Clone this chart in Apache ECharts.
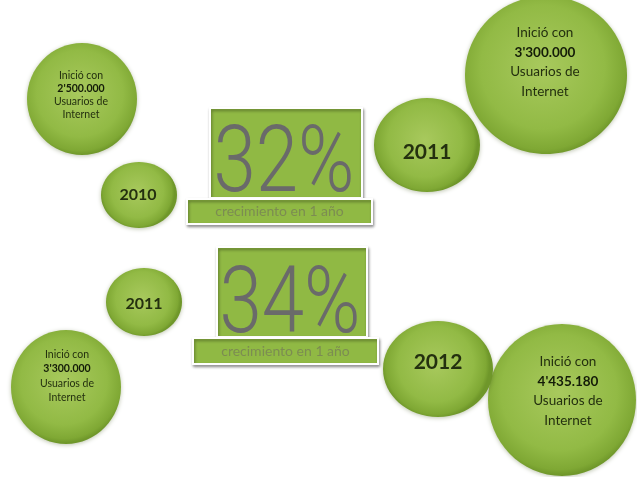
<!DOCTYPE html>
<html>
<head>
<meta charset="utf-8">
<script src="https://cdn.jsdelivr.net/npm/echarts@6/dist/echarts.min.js"></script>
<style>
  html, body { margin: 0; padding: 0; background: #ffffff; }
  #chart { width: 637px; height: 477px; }
</style>
</head>
<body>
<div id="chart"></div>
<script>
// Internet users, one growth step per period
const periodStartYear = [2010, 2011];
const periodEndYear = [2011, 2012];
const usersAtStart = [2500000, 3300000];
const usersAtEnd = [3300000, 4435180];
const growthPercent = [32, 34];
const growthCaption = 'crecimiento en 1 año';
const usersTextBefore = 'Inició con';
const usersTextAfter = ['Usuarios de', 'Internet'];

// Board: a 637 x 477 stage addressed through hidden value axes
const STAGE_W = 637;
const STAGE_H = 477;

// Where each piece of a period sits on the stage, and how its text is set
const layout = [
  {
    startUsers: { cx: 82, cy: 99, rx: 55, ry: 56, dx: -1, dy: -4, fs: 10.5, lh: 13 },
    startYear:  { cx: 139, cy: 195, rx: 38, ry: 33, dx: -1, dy: 0, fs: 16 },
    endYear:    { cx: 427, cy: 145, rx: 53, ry: 47, dx: 0, dy: 7, fs: 21 },
    endUsers:   { cx: 546, cy: 75, rx: 81, ry: 79, dx: -1, dy: -13, fs: 13.5, lh: 19.5 },
    box:        { x0: 210, y0: 108, x1: 362, y1: 198, dy: 15 },
    bar:        { x0: 187, y0: 199, x1: 372, y1: 224 }
  },
  {
    startUsers: { cx: 66, cy: 387, rx: 55, ry: 57, dx: 1, dy: -11, fs: 10.5, lh: 14.5 },
    startYear:  { cx: 144, cy: 302, rx: 38, ry: 34, dx: 0, dy: 2, fs: 16 },
    endYear:    { cx: 438, cy: 369, rx: 55, ry: 48, dx: 0, dy: -7, fs: 21 },
    endUsers:   { cx: 562, cy: 400, rx: 74, ry: 76, dx: 6, dy: -9, fs: 13.5, lh: 19.5 },
    box:        { x0: 217, y0: 247, x1: 367, y1: 337, dy: 17 },
    bar:        { x0: 193, y0: 338, x1: 378, y1: 364 }
  }
];

const FONT = 'Lato, "Noto Sans", sans-serif';
const BIG_FONT = 'Roboto, Lato, sans-serif';
const INK = '#24300f';

function formatUsers(n) {
  const pad = v => String(v).padStart(3, '0');
  const millions = Math.floor(n / 1e6);
  const thousands = Math.floor((n % 1e6) / 1000);
  const units = n % 1000;
  return millions + "'" + pad(thousands) + '.' + pad(units);
}

// Bubble list: user-count bubbles first so the year bubbles overlap them
const bubbles = [];
periodStartYear.forEach((_, i) => {
  bubbles.push({ kind: 'users', value: usersAtStart[i], place: layout[i].startUsers });
  bubbles.push({ kind: 'users', value: usersAtEnd[i], place: layout[i].endUsers });
});
periodStartYear.forEach((_, i) => {
  bubbles.push({ kind: 'year', value: periodStartYear[i], place: layout[i].startYear });
  bubbles.push({ kind: 'year', value: periodEndYear[i], place: layout[i].endYear });
});

function bubbleFill() {
  return new echarts.graphic.RadialGradient(0.48, 0.45, 0.56, [
    { offset: 0, color: '#a8c95d' },
    { offset: 0.7, color: '#92ba45' },
    { offset: 0.93, color: '#7fa834' },
    { offset: 1, color: '#6f972a' }
  ]);
}

function renderBubble(params, api) {
  const b = bubbles[params.dataIndex];
  const p = b.place;
  const c = api.coord([api.value(0), api.value(1)]);
  const s = api.size([api.value(2), api.value(3)], [api.value(0), api.value(1)]);
  let text, rich;
  if (b.kind === 'users') {
    text = '{n|' + usersTextBefore + '}\n{b|' + formatUsers(b.value) + '}\n' +
      usersTextAfter.map(t => '{n|' + t + '}').join('\n');
    rich = {
      n: { fontFamily: FONT, fontSize: p.fs, lineHeight: p.lh, fill: INK, align: 'center' },
      b: { fontFamily: FONT, fontSize: p.fs, lineHeight: p.lh, fontWeight: 'bold', fill: '#141c08', align: 'center' }
    };
  } else {
    text = String(b.value);
    rich = null;
  }
  const style = {
    text: text,
    x: 0, y: 0,
    align: 'center',
    verticalAlign: 'middle',
    fontFamily: FONT,
    fontSize: p.fs,
    fontWeight: b.kind === 'year' ? 'bold' : 'normal',
    fill: INK
  };
  if (rich) style.rich = rich;
  return {
    type: 'group',
    children: [
      {
        type: 'ellipse',
        shape: { cx: c[0], cy: c[1], rx: s[0], ry: s[1] },
        style: {
          fill: bubbleFill(),
          shadowColor: 'rgba(70, 90, 30, 0.35)',
          shadowBlur: 4,
          shadowOffsetY: 1
        }
      },
      {
        type: 'text',
        x: c[0] + p.dx,
        y: c[1] + p.dy,
        style: style
      }
    ]
  };
}

function renderGrowth(params, api) {
  const L = layout[params.dataIndex];
  const b0 = api.coord([L.box.x0, L.box.y0]);
  const b1 = api.coord([L.box.x1, L.box.y1]);
  const r0 = api.coord([L.bar.x0, L.bar.y0]);
  const r1 = api.coord([L.bar.x1, L.bar.y1]);
  const frame = {
    fill: '#90b944',
    stroke: '#ffffff',
    lineWidth: 2,
    shadowColor: 'rgba(0, 0, 0, 0.38)',
    shadowBlur: 3,
    shadowOffsetX: 1,
    shadowOffsetY: 2
  };
  const midX = (b0[0] + b1[0]) / 2;
  const midY = (b0[1] + b1[1]) / 2;
  return {
    type: 'group',
    children: [
      {
        type: 'rect',
        shape: { x: b0[0], y: b0[1], width: b1[0] - b0[0], height: b1[1] - b0[1] },
        style: frame
      },
      {
        type: 'text',
        x: midX - 2,
        y: midY + L.box.dy,
        scaleX: 0.82,
        style: {
          text: api.value(0) + '%',
          x: 0, y: 0,
          align: 'center',
          verticalAlign: 'middle',
          fontFamily: BIG_FONT,
          fontWeight: 300,
          fontSize: 93,
          fill: '#6a6a6a'
        }
      },
      {
        type: 'rect',
        shape: { x: r0[0], y: r0[1], width: r1[0] - r0[0], height: r1[1] - r0[1] },
        style: frame
      },
      {
        type: 'text',
        x: (r0[0] + r1[0]) / 2,
        y: (r0[1] + r1[1]) / 2,
        style: {
          text: growthCaption,
          x: 0, y: 0,
          align: 'center',
          verticalAlign: 'middle',
          fontFamily: FONT,
          fontSize: 14,
          fill: '#7c8c52'
        }
      }
    ]
  };
}

const chart = echarts.init(document.getElementById('chart'), null, { renderer: 'canvas' });
chart.setOption({
  backgroundColor: '#ffffff',
  animation: false,
  grid: { left: 0, right: 0, top: 0, bottom: 0 },
  xAxis: { type: 'value', min: 0, max: STAGE_W, show: false },
  yAxis: { type: 'value', min: 0, max: STAGE_H, inverse: true, show: false },
  series: [
    {
      type: 'custom',
      name: 'crecimiento',
      renderItem: renderGrowth,
      data: growthPercent.map(v => [v]),
      encode: { x: -1, y: -1 },
      silent: true
    },
    {
      type: 'custom',
      name: 'usuarios',
      renderItem: renderBubble,
      data: bubbles.map(b => [b.place.cx, b.place.cy, b.place.rx, b.place.ry]),
      encode: { x: 0, y: 1 },
      clip: false,
      silent: true
    }
  ]
});
</script>
</body>
</html>
